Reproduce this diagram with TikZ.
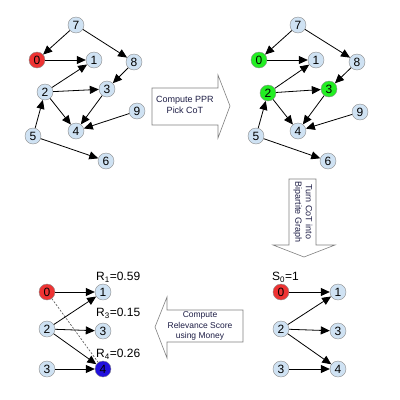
\documentclass[tikz,border=0pt]{standalone}
\usepackage{fontspec}
\setmainfont{Liberation Sans}
\usetikzlibrary{arrows.meta}
\definecolor{nodeblue}{HTML}{CFE2F3}
\definecolor{seedred}{HTML}{EE3333}
\definecolor{cotgreen}{HTML}{22EE22}
\definecolor{topblue}{HTML}{2211DD}
\definecolor{labelnavy}{HTML}{1E1E46}
\begin{document}
\begin{tikzpicture}[x=1pt,y=-1pt,
        vertex/.style={circle,draw=black!45,fill=nodeblue,minimum size=16pt,inner sep=0pt,font=\fontsize{12}{12}\selectfont},
        seed/.style={vertex,fill=seedred},
        cot/.style={vertex,fill=cotgreen},
        top/.style={vertex,fill=topblue},
        edge/.style={-{Triangle[length=9pt,width=8pt]},line width=0.8pt},
        blockarrow/.style={draw=black!50,fill=white,line width=0.6pt},
        arrowtext/.style={font=\fontsize{9}{10.5}\selectfont,text=labelnavy,align=center},
        score/.style={anchor=west,inner sep=0pt,font=\fontsize{12}{12}\selectfont}]
    \useasboundingbox(0, 0)rectangle(400, 400);
    % first graph
    \node[vertex](a7) at (76, 25) {7};
    \node[seed](a0) at (37, 60) {0};
    \node[vertex](a1) at (94, 60) {1};
    \node[vertex](a8) at (134, 62) {8};
    \node[vertex](a2) at (45, 92) {2};
    \node[vertex](a3) at (107, 89) {3};
    \node[vertex](a9) at (137, 111) {9};
    \node[vertex](a4) at (76, 131) {4};
    \node[vertex](a5) at (33, 136) {5};
    \node[vertex](a6) at (106, 161) {6};
    \draw[edge](a7)--(a0);
    \draw[edge](a7)--(a8);
    \draw[edge](a0)--(a1);
    \draw[edge](a2)--(a1);
    \draw[edge](a2)--(a3);
    \draw[edge](a2)--(a4);
    \draw[edge](a8)--(a3);
    \draw[edge](a3)--(a4);
    \draw[edge](a9)--(a4);
    \draw[edge](a5)--(a2);
    \draw[edge](a5)--(a6);
    % second graph, CoT picked
    \node[vertex](b7) at (298, 25) {7};
    \node[cot](b0) at (259, 60) {0};
    \node[vertex](b1) at (316, 60) {1};
    \node[vertex](b8) at (357, 62) {8};
    \node[cot](b2) at (268, 93) {2};
    \node[cot](b3) at (329, 89) {3};
    \node[vertex](b9) at (360, 112) {9};
    \node[vertex](b4) at (298, 131) {4};
    \node[vertex](b5) at (256, 136) {5};
    \node[vertex](b6) at (328, 161) {6};
    \draw[edge](b7)--(b0);
    \draw[edge](b7)--(b8);
    \draw[edge](b0)--(b1);
    \draw[edge](b2)--(b1);
    \draw[edge](b2)--(b3);
    \draw[edge](b2)--(b4);
    \draw[edge](b8)--(b3);
    \draw[edge](b3)--(b4);
    \draw[edge](b9)--(b4);
    \draw[edge](b5)--(b2);
    \draw[edge](b5)--(b6);
    % bipartite graph
    \node[score](s0) at (272, 277) {S\textsubscript{0}=1};
    \node[seed](c0) at (281, 292) {0};
    \node[vertex](c2) at (281, 329) {2};
    \node[vertex](c3) at (281, 369) {3};
    \node[vertex](c1) at (338, 292) {1};
    \node[vertex](c5) at (338, 331) {3};
    \node[vertex](c4) at (338, 369) {4};
    \draw[edge](c0)--(c1);
    \draw[edge](c2)--(c1);
    \draw[edge](c2)--(c5);
    \draw[edge](c2)--(c4);
    \draw[edge](c3)--(c4);
    % relevance scores
    \node[seed](d0) at (47, 292) {0};
    \node[vertex](d2) at (47, 329) {2};
    \node[vertex](d3) at (47, 369) {3};
    \node[vertex](d1) at (103, 292) {1};
    \node[vertex](d5) at (103, 331) {3};
    \node[top](d4) at (103, 369) {4};
    \draw[black!70,line width=0.6pt,dash pattern=on 2pt off 1.5pt](d0)--(d4);
    \draw[edge](d0)--(d1);
    \draw[edge](d2)--(d1);
    \draw[edge](d2)--(d5);
    \draw[edge](d2)--(d4);
    \draw[edge](d3)--(d4);
    \node[score](r1) at (96, 277) {R\textsubscript{1}=0.59};
    \node[score](r3) at (96, 313) {R\textsubscript{3}=0.15};
    \node[score](r4) at (96, 354) {R\textsubscript{4}=0.26};
    % block arrows
    \draw[blockarrow](152, 88)--(218, 88)--(218, 75)--(230, 106)--(218, 138)--(218, 125)--(152, 125)--cycle;
    \node[arrowtext](ppr) at (185, 105) {Compute PPR\\Pick CoT};
    \draw[blockarrow](289, 179)--(316, 179)--(316, 245)--(335, 245)--(304, 257)--(273, 245)--(289, 245)--cycle;
    \node[arrowtext,rotate=-90](turn) at (303, 212) {Turn CoT into\\Bipartite Graph};
    \draw[blockarrow](243, 310)--(243, 342)--(167, 342)--(167, 358)--(155, 327)--(167, 297)--(167, 310)--cycle;
    \node[arrowtext,font=\fontsize{8.5}{10.5}\selectfont](money) at (200, 326) {Compute\\Relevance Score\\using Money};
\end{tikzpicture}
\end{document}
